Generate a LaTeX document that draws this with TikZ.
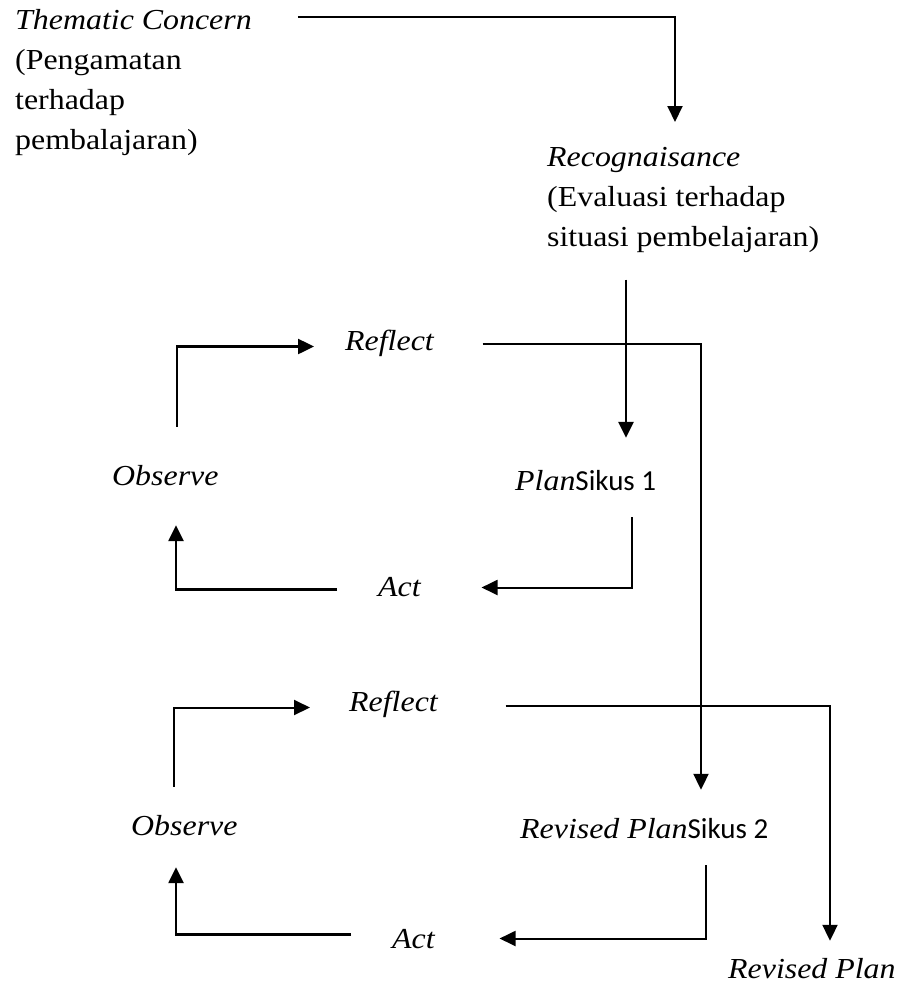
\documentclass[tikz,border=0pt]{standalone}
\usepackage{fontspec}
\setmainfont{Liberation Serif}[FakeStretch=1.1]
\newfontfamily\sikusfont{Carlito}
\usetikzlibrary{arrows.meta, calc}

\tikzset{
  lbl/.style={inner sep=0pt, anchor=base west, text height=20pt, text depth=7pt},
  blk/.style={inner sep=0pt, anchor=north west, align=left},
  flow/.style={line width=2.5pt, -{Triangle[length=16pt,width=15pt]}},
  thinline/.style={line width=2pt}
}

\begin{document}
\begin{tikzpicture}[x=1pt, y=-1pt, font=\fontsize{29}{40}\selectfont]
			\useasboundingbox (0,0) rectangle (905,986);
			% top: concern and recognaisance
			\node[blk] (theme) at (15,9.5)
			{\textit{Thematic Concern}\\(Pengamatan\\terhadap\\pembalajaran)};
			\node[blk] (recog) at (547,147.5)
			{\textit{Recognaisance}\\(Evaluasi terhadap\\situasi pembelajaran)};
			% first cycle
			\node[lbl] (refA) at (345,350) {\textit{Reflect}};
			\node[lbl] (obsA) at (112,485) {\textit{Observe}};
			\node[lbl] (planA) at (515,490) {\textit{Plan}{\sikusfont Sikus 1}};
			\node[lbl] (actA) at (378,596) {\textit{Act}};
			% second cycle
			\node[lbl] (refB) at (349,711) {\textit{Reflect}};
			\node[lbl] (obsB) at (131,835) {\textit{Observe}};
			\node[lbl] (planB) at (520,838) {\textit{Revised Plan}{\sikusfont Sikus 2}};
			\node[lbl] (actB) at (392,948) {\textit{Act}};
			\node[lbl, text depth=2pt] (rev) at (728,978) {\textit{Revised Plan}};
			% connectors
			\draw[flow, thinline] ($(theme.north east)+(46,7)$) -| ($(recog.north west)+(128,-25.5)$);
			\draw[flow] ($(recog.north west)+(79,132)$) -- ($(planA.north west)+(111,-32)$);
			\draw[flow, thinline] ($(refA.east)+(48,0)$) -| ($(planB.north west)+(181,-28)$);
			\draw[flow, thinline] ($(planA.south west)+(117,20)$) |- ($(actA.east)+(60,-2)$);
			\draw[flow] ($(actA.west)+(-41,0)$) -| ($(obsA.south west)+(64,33)$);
			\draw[flow] ($(obsA.north west)+(65,-38)$) |- ($(refA.west)+(-31,3)$);
			\draw[flow, thinline] ($(refB.east)+(67,1)$) -| ($(rev.north west)+(102,-17)$);
			\draw[flow, thinline] ($(planB.south west)+(186,20)$) |- ($(actB.east)+(64,-3)$);
			\draw[flow] ($(actB.west)+(-41,-7)$) -| ($(obsB.south west)+(45,25)$);
			\draw[flow, thinline] ($(obsB.north west)+(43,-28)$) |- ($(refB.west)+(-39,3)$);
		\end{tikzpicture}
\end{document}
